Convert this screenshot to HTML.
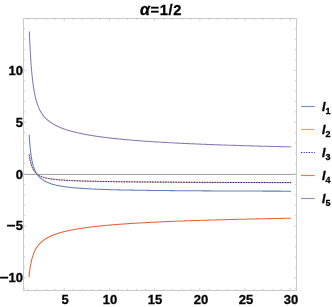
<!DOCTYPE html><html><head><meta charset="utf-8"><style>
html,body{margin:0;padding:0;background:#fff}
body{width:332px;height:307px;position:relative;overflow:hidden;font-family:"Liberation Sans",sans-serif;font-weight:bold;color:#000}
.t{position:absolute;white-space:nowrap;line-height:1;will-change:transform;-webkit-text-stroke:0.3px #000}
.yl{font-size:13px;text-align:right;width:30px}
.xl{font-size:13px;text-align:center;width:30px}
.lg{font-size:12.5px;font-style:italic}
.mn{display:inline-block;transform:scaleX(1.2);transform-origin:100% 50%}
.lg sub{font-size:9px;font-style:normal;vertical-align:baseline;position:relative;top:2.5px;left:0px}
</style></head><body>
<svg width="332" height="307" viewBox="0 0 332 307" style="position:absolute;left:0;top:0">
<line x1="23.5" y1="174.45" x2="296.5" y2="174.45" stroke="#8c8c8c" stroke-width="0.85"/>
<path d="M29.20,134.69 L29.28,136.05 L29.36,137.36 L29.45,138.62 L29.53,139.83 L29.61,141.00 L29.70,142.13 L29.78,143.22 L29.87,144.28 L29.96,145.29 L30.04,146.27 L30.13,147.22 L30.22,148.14 L30.31,149.03 L30.40,149.89 L30.49,150.72 L30.59,151.52 L30.68,152.30 L30.77,153.05 L30.87,153.78 L30.96,154.49 L31.06,155.17 L31.16,155.84 L31.25,156.48 L31.35,157.11 L31.45,157.72 L31.55,158.31 L31.65,158.88 L31.76,159.44 L31.86,159.98 L31.96,160.51 L32.07,161.02 L32.17,161.52 L32.28,162.00 L32.39,162.47 L32.49,162.93 L32.60,163.38 L32.71,163.82 L32.82,164.25 L32.93,164.66 L33.05,165.07 L33.16,165.46 L33.28,165.85 L33.39,166.23 L33.51,166.60 L33.62,166.96 L33.74,167.31 L33.86,167.65 L33.98,167.99 L34.10,168.32 L34.23,168.64 L34.35,168.96 L34.48,169.27 L34.60,169.57 L34.73,169.86 L34.86,170.16 L34.98,170.44 L35.11,170.72 L35.24,170.99 L35.38,171.26 L35.51,171.53 L35.64,171.78 L35.78,172.04 L35.92,172.29 L36.05,172.53 L36.19,172.77 L36.33,173.01 L36.47,173.24 L36.62,173.47 L36.76,173.69 L36.90,173.91 L37.05,174.13 L37.20,174.34 L37.35,174.55 L37.50,174.76 L37.65,174.96 L37.80,175.16 L37.95,175.36 L38.11,175.55 L38.26,175.74 L38.42,175.93 L38.58,176.12 L38.74,176.30 L38.90,176.48 L39.06,176.66 L39.23,176.83 L39.39,177.00 L39.56,177.17 L39.73,177.34 L39.90,177.51 L40.07,177.67 L40.24,177.83 L40.41,177.99 L40.59,178.14 L40.77,178.30 L40.95,178.45 L41.13,178.60 L41.31,178.75 L41.49,178.89 L41.67,179.04 L41.86,179.18 L42.05,179.32 L42.24,179.46 L42.43,179.59 L42.62,179.73 L42.81,179.86 L43.01,179.99 L43.21,180.12 L43.40,180.25 L43.61,180.38 L43.81,180.50 L44.01,180.63 L44.22,180.75 L44.42,180.87 L44.63,180.99 L44.84,181.11 L45.06,181.22 L45.27,181.34 L45.49,181.45 L45.70,181.56 L45.92,181.67 L46.15,181.78 L46.37,181.89 L46.59,182.00 L46.82,182.10 L47.05,182.21 L47.28,182.31 L47.52,182.41 L47.75,182.52 L47.99,182.62 L48.23,182.71 L48.47,182.81 L48.71,182.91 L48.95,183.00 L49.20,183.10 L49.45,183.19 L49.70,183.28 L49.96,183.37 L50.21,183.46 L50.47,183.55 L50.73,183.64 L50.99,183.73 L51.25,183.81 L51.52,183.90 L51.79,183.98 L52.06,184.07 L52.33,184.15 L52.61,184.23 L52.89,184.31 L53.17,184.39 L53.45,184.47 L53.73,184.55 L54.02,184.62 L54.31,184.70 L54.60,184.77 L54.90,184.85 L55.19,184.92 L55.49,184.99 L55.79,185.07 L56.10,185.14 L56.41,185.21 L56.71,185.28 L57.03,185.35 L57.34,185.41 L57.66,185.48 L57.98,185.55 L58.30,185.61 L58.63,185.68 L58.95,185.74 L59.29,185.81 L59.62,185.87 L59.96,185.93 L60.30,185.99 L60.64,186.06 L60.98,186.12 L61.33,186.18 L61.68,186.23 L62.03,186.29 L62.39,186.35 L62.75,186.41 L63.11,186.46 L63.48,186.52 L63.85,186.58 L64.22,186.63 L64.60,186.68 L64.97,186.74 L65.36,186.79 L65.74,186.84 L66.13,186.89 L66.52,186.95 L66.91,187.00 L67.31,187.05 L67.71,187.10 L68.12,187.15 L68.52,187.19 L68.93,187.24 L69.35,187.29 L69.77,187.34 L70.19,187.38 L70.61,187.43 L71.04,187.47 L71.47,187.52 L71.91,187.56 L72.35,187.61 L72.79,187.65 L73.24,187.69 L73.69,187.74 L74.15,187.78 L74.60,187.82 L75.07,187.86 L75.53,187.90 L76.00,187.94 L76.48,187.98 L76.95,188.02 L77.44,188.06 L77.92,188.10 L78.41,188.14 L78.90,188.18 L79.40,188.21 L79.91,188.25 L80.41,188.29 L80.92,188.32 L81.44,188.36 L81.96,188.39 L82.48,188.43 L83.01,188.46 L83.54,188.50 L84.08,188.53 L84.62,188.57 L85.17,188.60 L85.72,188.63 L86.27,188.66 L86.83,188.70 L87.40,188.73 L87.97,188.76 L88.54,188.79 L89.12,188.82 L89.70,188.85 L90.29,188.88 L90.89,188.91 L91.49,188.94 L92.09,188.97 L92.70,189.00 L93.31,189.03 L93.93,189.06 L94.55,189.08 L95.18,189.11 L95.82,189.14 L96.46,189.17 L97.10,189.19 L97.76,189.22 L98.41,189.25 L99.07,189.27 L99.74,189.30 L100.41,189.32 L101.09,189.35 L101.78,189.37 L102.47,189.40 L103.16,189.42 L103.86,189.44 L104.57,189.47 L105.28,189.49 L106.00,189.52 L106.73,189.54 L107.46,189.56 L108.20,189.58 L108.94,189.61 L109.69,189.63 L110.45,189.65 L111.21,189.67 L111.98,189.69 L112.76,189.71 L113.54,189.73 L114.33,189.76 L115.12,189.78 L115.92,189.80 L116.73,189.82 L117.55,189.84 L118.37,189.86 L119.20,189.87 L120.04,189.89 L120.88,189.91 L121.73,189.93 L122.59,189.95 L123.45,189.97 L124.32,189.99 L125.20,190.00 L126.09,190.02 L126.98,190.04 L127.88,190.06 L128.79,190.07 L129.71,190.09 L130.63,190.11 L131.57,190.12 L132.51,190.14 L133.45,190.16 L134.41,190.17 L135.37,190.19 L136.34,190.20 L137.32,190.22 L138.31,190.24 L139.31,190.25 L140.31,190.27 L141.33,190.28 L142.35,190.30 L143.38,190.31 L144.42,190.33 L145.46,190.34 L146.52,190.35 L147.59,190.37 L148.66,190.38 L149.74,190.40 L150.84,190.41 L151.94,190.42 L153.05,190.44 L154.17,190.45 L155.30,190.46 L156.44,190.47 L157.58,190.49 L158.74,190.50 L159.91,190.51 L161.09,190.52 L162.28,190.54 L163.47,190.55 L164.68,190.56 L165.90,190.57 L167.13,190.58 L168.36,190.60 L169.61,190.61 L170.87,190.62 L172.14,190.63 L173.42,190.64 L174.71,190.65 L176.01,190.66 L177.33,190.67 L178.65,190.68 L179.98,190.69 L181.33,190.70 L182.69,190.71 L184.06,190.72 L185.44,190.73 L186.83,190.74 L188.23,190.75 L189.65,190.76 L191.07,190.77 L192.51,190.78 L193.96,190.79 L195.43,190.80 L196.90,190.81 L198.39,190.82 L199.89,190.83 L201.40,190.84 L202.93,190.85 L204.46,190.86 L206.02,190.86 L207.58,190.87 L209.16,190.88 L210.75,190.89 L212.35,190.90 L213.97,190.91 L215.60,190.91 L217.24,190.92 L218.90,190.93 L220.58,190.94 L222.26,190.94 L223.96,190.95 L225.68,190.96 L227.41,190.97 L229.15,190.97 L230.91,190.98 L232.68,190.99 L234.47,191.00 L236.27,191.00 L238.09,191.01 L239.92,191.02 L241.77,191.02 L243.63,191.03 L245.51,191.04 L247.41,191.04 L249.32,191.05 L251.25,191.06 L253.19,191.06 L255.15,191.07 L257.13,191.08 L259.12,191.08 L261.13,191.09 L263.16,191.10 L265.20,191.10 L267.26,191.11 L269.34,191.11 L271.43,191.12 L273.55,191.12 L275.68,191.13 L277.83,191.14 L279.99,191.14 L282.18,191.15 L284.38,191.15 L286.60,191.16 L288.84,191.16 L291.10,191.17" fill="none" stroke="#5e81b5" stroke-width="1.05"/>
<path d="M29.20,154.53 L29.28,155.07 L29.36,155.60 L29.45,156.12 L29.53,156.63 L29.61,157.13 L29.70,157.61 L29.78,158.08 L29.87,158.55 L29.96,159.00 L30.04,159.44 L30.13,159.87 L30.22,160.30 L30.31,160.71 L30.40,161.11 L30.49,161.51 L30.59,161.89 L30.68,162.27 L30.77,162.64 L30.87,163.00 L30.96,163.35 L31.06,163.70 L31.16,164.03 L31.25,164.36 L31.35,164.69 L31.45,165.00 L31.55,165.31 L31.65,165.61 L31.76,165.91 L31.86,166.19 L31.96,166.48 L32.07,166.75 L32.17,167.02 L32.28,167.29 L32.39,167.55 L32.49,167.80 L32.60,168.05 L32.71,168.29 L32.82,168.53 L32.93,168.76 L33.05,168.98 L33.16,169.21 L33.28,169.42 L33.39,169.64 L33.51,169.85 L33.62,170.05 L33.74,170.25 L33.86,170.45 L33.98,170.64 L34.10,170.83 L34.23,171.01 L34.35,171.19 L34.48,171.37 L34.60,171.54 L34.73,171.71 L34.86,171.87 L34.98,172.04 L35.11,172.20 L35.24,172.35 L35.38,172.50 L35.51,172.65 L35.64,172.80 L35.78,172.94 L35.92,173.09 L36.05,173.22 L36.19,173.36 L36.33,173.49 L36.47,173.62 L36.62,173.75 L36.76,173.88 L36.90,174.00 L37.05,174.12 L37.20,174.24 L37.35,174.35 L37.50,174.47 L37.65,174.58 L37.80,174.69 L37.95,174.79 L38.11,174.90 L38.26,175.00 L38.42,175.11 L38.58,175.20 L38.74,175.30 L38.90,175.40 L39.06,175.49 L39.23,175.59 L39.39,175.68 L39.56,175.77 L39.73,175.85 L39.90,175.94 L40.07,176.02 L40.24,176.11 L40.41,176.19 L40.59,176.27 L40.77,176.35 L40.95,176.43 L41.13,176.50 L41.31,176.58 L41.49,176.65 L41.67,176.72 L41.86,176.79 L42.05,176.86 L42.24,176.93 L42.43,177.00 L42.62,177.07 L42.81,177.13 L43.01,177.20 L43.21,177.26 L43.40,177.32 L43.61,177.38 L43.81,177.44 L44.01,177.50 L44.22,177.56 L44.42,177.62 L44.63,177.68 L44.84,177.73 L45.06,177.79 L45.27,177.84 L45.49,177.89 L45.70,177.95 L45.92,178.00 L46.15,178.05 L46.37,178.10 L46.59,178.15 L46.82,178.20 L47.05,178.25 L47.28,178.29 L47.52,178.34 L47.75,178.39 L47.99,178.43 L48.23,178.47 L48.47,178.52 L48.71,178.56 L48.95,178.61 L49.20,178.65 L49.45,178.69 L49.70,178.73 L49.96,178.77 L50.21,178.81 L50.47,178.85 L50.73,178.89 L50.99,178.93 L51.25,178.97 L51.52,179.00 L51.79,179.04 L52.06,179.08 L52.33,179.11 L52.61,179.15 L52.89,179.18 L53.17,179.22 L53.45,179.25 L53.73,179.28 L54.02,179.32 L54.31,179.35 L54.60,179.38 L54.90,179.42 L55.19,179.45 L55.49,179.48 L55.79,179.51 L56.10,179.54 L56.41,179.57 L56.71,179.60 L57.03,179.63 L57.34,179.66 L57.66,179.69 L57.98,179.72 L58.30,179.75 L58.63,179.77 L58.95,179.80 L59.29,179.83 L59.62,179.86 L59.96,179.88 L60.30,179.91 L60.64,179.94 L60.98,179.96 L61.33,179.99 L61.68,180.01 L62.03,180.04 L62.39,180.06 L62.75,180.09 L63.11,180.11 L63.48,180.14 L63.85,180.16 L64.22,180.18 L64.60,180.21 L64.97,180.23 L65.36,180.25 L65.74,180.28 L66.13,180.30 L66.52,180.32 L66.91,180.34 L67.31,180.36 L67.71,180.39 L68.12,180.41 L68.52,180.43 L68.93,180.45 L69.35,180.47 L69.77,180.49 L70.19,180.51 L70.61,180.53 L71.04,180.55 L71.47,180.57 L71.91,180.59 L72.35,180.61 L72.79,180.63 L73.24,180.65 L73.69,180.67 L74.15,180.69 L74.60,180.71 L75.07,180.72 L75.53,180.74 L76.00,180.76 L76.48,180.78 L76.95,180.80 L77.44,180.82 L77.92,180.83 L78.41,180.85 L78.90,180.87 L79.40,180.88 L79.91,180.90 L80.41,180.92 L80.92,180.94 L81.44,180.95 L81.96,180.97 L82.48,180.99 L83.01,181.00 L83.54,181.02 L84.08,181.03 L84.62,181.05 L85.17,181.07 L85.72,181.08 L86.27,181.10 L86.83,181.11 L87.40,181.13 L87.97,181.14 L88.54,181.16 L89.12,181.17 L89.70,181.19 L90.29,181.20 L90.89,181.22 L91.49,181.23 L92.09,181.24 L92.70,181.26 L93.31,181.27 L93.93,181.29 L94.55,181.30 L95.18,181.31 L95.82,181.33 L96.46,181.34 L97.10,181.36 L97.76,181.37 L98.41,181.38 L99.07,181.40 L99.74,181.41 L100.41,181.42 L101.09,181.43 L101.78,181.45 L102.47,181.46 L103.16,181.47 L103.86,181.49 L104.57,181.50 L105.28,181.51 L106.00,181.52 L106.73,181.53 L107.46,181.55 L108.20,181.56 L108.94,181.57 L109.69,181.58 L110.45,181.59 L111.21,181.61 L111.98,181.62 L112.76,181.63 L113.54,181.64 L114.33,181.65 L115.12,181.66 L115.92,181.67 L116.73,181.69 L117.55,181.70 L118.37,181.71 L119.20,181.72 L120.04,181.73 L120.88,181.74 L121.73,181.75 L122.59,181.76 L123.45,181.77 L124.32,181.78 L125.20,181.79 L126.09,181.80 L126.98,181.81 L127.88,181.82 L128.79,181.83 L129.71,181.84 L130.63,181.85 L131.57,181.86 L132.51,181.87 L133.45,181.88 L134.41,181.89 L135.37,181.90 L136.34,181.91 L137.32,181.92 L138.31,181.93 L139.31,181.94 L140.31,181.95 L141.33,181.96 L142.35,181.97 L143.38,181.98 L144.42,181.99 L145.46,182.00 L146.52,182.01 L147.59,182.02 L148.66,182.02 L149.74,182.03 L150.84,182.04 L151.94,182.05 L153.05,182.06 L154.17,182.07 L155.30,182.08 L156.44,182.09 L157.58,182.09 L158.74,182.10 L159.91,182.11 L161.09,182.12 L162.28,182.13 L163.47,182.14 L164.68,182.14 L165.90,182.15 L167.13,182.16 L168.36,182.17 L169.61,182.18 L170.87,182.18 L172.14,182.19 L173.42,182.20 L174.71,182.21 L176.01,182.22 L177.33,182.22 L178.65,182.23 L179.98,182.24 L181.33,182.25 L182.69,182.25 L184.06,182.26 L185.44,182.27 L186.83,182.28 L188.23,182.28 L189.65,182.29 L191.07,182.30 L192.51,182.30 L193.96,182.31 L195.43,182.32 L196.90,182.33 L198.39,182.33 L199.89,182.34 L201.40,182.35 L202.93,182.35 L204.46,182.36 L206.02,182.37 L207.58,182.37 L209.16,182.38 L210.75,182.39 L212.35,182.39 L213.97,182.40 L215.60,182.41 L217.24,182.41 L218.90,182.42 L220.58,182.43 L222.26,182.43 L223.96,182.44 L225.68,182.45 L227.41,182.45 L229.15,182.46 L230.91,182.46 L232.68,182.47 L234.47,182.48 L236.27,182.48 L238.09,182.49 L239.92,182.49 L241.77,182.50 L243.63,182.51 L245.51,182.51 L247.41,182.52 L249.32,182.52 L251.25,182.53 L253.19,182.54 L255.15,182.54 L257.13,182.55 L259.12,182.55 L261.13,182.56 L263.16,182.56 L265.20,182.57 L267.26,182.57 L269.34,182.58 L271.43,182.59 L273.55,182.59 L275.68,182.60 L277.83,182.60 L279.99,182.61 L282.18,182.61 L284.38,182.62 L286.60,182.62 L288.84,182.63 L291.10,182.63" fill="none" stroke="#e19c24" stroke-width="1"/>
<path d="M29.20,154.53 L29.28,155.07 L29.36,155.60 L29.45,156.12 L29.53,156.63 L29.61,157.13 L29.70,157.61 L29.78,158.08 L29.87,158.55 L29.96,159.00 L30.04,159.44 L30.13,159.87 L30.22,160.30 L30.31,160.71 L30.40,161.11 L30.49,161.51 L30.59,161.89 L30.68,162.27 L30.77,162.64 L30.87,163.00 L30.96,163.35 L31.06,163.70 L31.16,164.03 L31.25,164.36 L31.35,164.69 L31.45,165.00 L31.55,165.31 L31.65,165.61 L31.76,165.91 L31.86,166.19 L31.96,166.48 L32.07,166.75 L32.17,167.02 L32.28,167.29 L32.39,167.55 L32.49,167.80 L32.60,168.05 L32.71,168.29 L32.82,168.53 L32.93,168.76 L33.05,168.98 L33.16,169.21 L33.28,169.42 L33.39,169.64 L33.51,169.85 L33.62,170.05 L33.74,170.25 L33.86,170.45 L33.98,170.64 L34.10,170.83 L34.23,171.01 L34.35,171.19 L34.48,171.37 L34.60,171.54 L34.73,171.71 L34.86,171.87 L34.98,172.04 L35.11,172.20 L35.24,172.35 L35.38,172.50 L35.51,172.65 L35.64,172.80 L35.78,172.94 L35.92,173.09 L36.05,173.22 L36.19,173.36 L36.33,173.49 L36.47,173.62 L36.62,173.75 L36.76,173.88 L36.90,174.00 L37.05,174.12 L37.20,174.24 L37.35,174.35 L37.50,174.47 L37.65,174.58 L37.80,174.69 L37.95,174.79 L38.11,174.90 L38.26,175.00 L38.42,175.11 L38.58,175.20 L38.74,175.30 L38.90,175.40 L39.06,175.49 L39.23,175.59 L39.39,175.68 L39.56,175.77 L39.73,175.85 L39.90,175.94 L40.07,176.02 L40.24,176.11 L40.41,176.19 L40.59,176.27 L40.77,176.35 L40.95,176.43 L41.13,176.50 L41.31,176.58 L41.49,176.65 L41.67,176.72 L41.86,176.79 L42.05,176.86 L42.24,176.93 L42.43,177.00 L42.62,177.07 L42.81,177.13 L43.01,177.20 L43.21,177.26 L43.40,177.32 L43.61,177.38 L43.81,177.44 L44.01,177.50 L44.22,177.56 L44.42,177.62 L44.63,177.68 L44.84,177.73 L45.06,177.79 L45.27,177.84 L45.49,177.89 L45.70,177.95 L45.92,178.00 L46.15,178.05 L46.37,178.10 L46.59,178.15 L46.82,178.20 L47.05,178.25 L47.28,178.29 L47.52,178.34 L47.75,178.39 L47.99,178.43 L48.23,178.47 L48.47,178.52 L48.71,178.56 L48.95,178.61 L49.20,178.65 L49.45,178.69 L49.70,178.73 L49.96,178.77 L50.21,178.81 L50.47,178.85 L50.73,178.89 L50.99,178.93 L51.25,178.97 L51.52,179.00 L51.79,179.04 L52.06,179.08 L52.33,179.11 L52.61,179.15 L52.89,179.18 L53.17,179.22 L53.45,179.25 L53.73,179.28 L54.02,179.32 L54.31,179.35 L54.60,179.38 L54.90,179.42 L55.19,179.45 L55.49,179.48 L55.79,179.51 L56.10,179.54 L56.41,179.57 L56.71,179.60 L57.03,179.63 L57.34,179.66 L57.66,179.69 L57.98,179.72 L58.30,179.75 L58.63,179.77 L58.95,179.80 L59.29,179.83 L59.62,179.86 L59.96,179.88 L60.30,179.91 L60.64,179.94 L60.98,179.96 L61.33,179.99 L61.68,180.01 L62.03,180.04 L62.39,180.06 L62.75,180.09 L63.11,180.11 L63.48,180.14 L63.85,180.16 L64.22,180.18 L64.60,180.21 L64.97,180.23 L65.36,180.25 L65.74,180.28 L66.13,180.30 L66.52,180.32 L66.91,180.34 L67.31,180.36 L67.71,180.39 L68.12,180.41 L68.52,180.43 L68.93,180.45 L69.35,180.47 L69.77,180.49 L70.19,180.51 L70.61,180.53 L71.04,180.55 L71.47,180.57 L71.91,180.59 L72.35,180.61 L72.79,180.63 L73.24,180.65 L73.69,180.67 L74.15,180.69 L74.60,180.71 L75.07,180.72 L75.53,180.74 L76.00,180.76 L76.48,180.78 L76.95,180.80 L77.44,180.82 L77.92,180.83 L78.41,180.85 L78.90,180.87 L79.40,180.88 L79.91,180.90 L80.41,180.92 L80.92,180.94 L81.44,180.95 L81.96,180.97 L82.48,180.99 L83.01,181.00 L83.54,181.02 L84.08,181.03 L84.62,181.05 L85.17,181.07 L85.72,181.08 L86.27,181.10 L86.83,181.11 L87.40,181.13 L87.97,181.14 L88.54,181.16 L89.12,181.17 L89.70,181.19 L90.29,181.20 L90.89,181.22 L91.49,181.23 L92.09,181.24 L92.70,181.26 L93.31,181.27 L93.93,181.29 L94.55,181.30 L95.18,181.31 L95.82,181.33 L96.46,181.34 L97.10,181.36 L97.76,181.37 L98.41,181.38 L99.07,181.40 L99.74,181.41 L100.41,181.42 L101.09,181.43 L101.78,181.45 L102.47,181.46 L103.16,181.47 L103.86,181.49 L104.57,181.50 L105.28,181.51 L106.00,181.52 L106.73,181.53 L107.46,181.55 L108.20,181.56 L108.94,181.57 L109.69,181.58 L110.45,181.59 L111.21,181.61 L111.98,181.62 L112.76,181.63 L113.54,181.64 L114.33,181.65 L115.12,181.66 L115.92,181.67 L116.73,181.69 L117.55,181.70 L118.37,181.71 L119.20,181.72 L120.04,181.73 L120.88,181.74 L121.73,181.75 L122.59,181.76 L123.45,181.77 L124.32,181.78 L125.20,181.79 L126.09,181.80 L126.98,181.81 L127.88,181.82 L128.79,181.83 L129.71,181.84 L130.63,181.85 L131.57,181.86 L132.51,181.87 L133.45,181.88 L134.41,181.89 L135.37,181.90 L136.34,181.91 L137.32,181.92 L138.31,181.93 L139.31,181.94 L140.31,181.95 L141.33,181.96 L142.35,181.97 L143.38,181.98 L144.42,181.99 L145.46,182.00 L146.52,182.01 L147.59,182.02 L148.66,182.02 L149.74,182.03 L150.84,182.04 L151.94,182.05 L153.05,182.06 L154.17,182.07 L155.30,182.08 L156.44,182.09 L157.58,182.09 L158.74,182.10 L159.91,182.11 L161.09,182.12 L162.28,182.13 L163.47,182.14 L164.68,182.14 L165.90,182.15 L167.13,182.16 L168.36,182.17 L169.61,182.18 L170.87,182.18 L172.14,182.19 L173.42,182.20 L174.71,182.21 L176.01,182.22 L177.33,182.22 L178.65,182.23 L179.98,182.24 L181.33,182.25 L182.69,182.25 L184.06,182.26 L185.44,182.27 L186.83,182.28 L188.23,182.28 L189.65,182.29 L191.07,182.30 L192.51,182.30 L193.96,182.31 L195.43,182.32 L196.90,182.33 L198.39,182.33 L199.89,182.34 L201.40,182.35 L202.93,182.35 L204.46,182.36 L206.02,182.37 L207.58,182.37 L209.16,182.38 L210.75,182.39 L212.35,182.39 L213.97,182.40 L215.60,182.41 L217.24,182.41 L218.90,182.42 L220.58,182.43 L222.26,182.43 L223.96,182.44 L225.68,182.45 L227.41,182.45 L229.15,182.46 L230.91,182.46 L232.68,182.47 L234.47,182.48 L236.27,182.48 L238.09,182.49 L239.92,182.49 L241.77,182.50 L243.63,182.51 L245.51,182.51 L247.41,182.52 L249.32,182.52 L251.25,182.53 L253.19,182.54 L255.15,182.54 L257.13,182.55 L259.12,182.55 L261.13,182.56 L263.16,182.56 L265.20,182.57 L267.26,182.57 L269.34,182.58 L271.43,182.59 L273.55,182.59 L275.68,182.60 L277.83,182.60 L279.99,182.61 L282.18,182.61 L284.38,182.62 L286.60,182.62 L288.84,182.63 L291.10,182.63" fill="none" stroke="#0000ff" stroke-width="1" stroke-dasharray="1.3,1.3"/>
<path d="M28.90,277.42 L28.98,276.67 L29.06,275.94 L29.14,275.22 L29.22,274.52 L29.30,273.83 L29.39,273.16 L29.47,272.49 L29.56,271.85 L29.64,271.21 L29.73,270.59 L29.81,269.98 L29.90,269.38 L29.99,268.79 L30.08,268.22 L30.17,267.65 L30.26,267.10 L30.35,266.56 L30.44,266.02 L30.53,265.50 L30.63,264.99 L30.72,264.49 L30.82,263.99 L30.91,263.51 L31.01,263.03 L31.11,262.56 L31.20,262.10 L31.30,261.65 L31.40,261.21 L31.50,260.78 L31.60,260.35 L31.71,259.93 L31.81,259.52 L31.91,259.11 L32.02,258.71 L32.13,258.32 L32.23,257.94 L32.34,257.56 L32.45,257.19 L32.56,256.82 L32.67,256.46 L32.78,256.11 L32.89,255.76 L33.01,255.42 L33.12,255.08 L33.24,254.75 L33.35,254.42 L33.47,254.10 L33.59,253.78 L33.71,253.47 L33.83,253.16 L33.95,252.86 L34.07,252.56 L34.19,252.27 L34.32,251.98 L34.44,251.70 L34.57,251.41 L34.70,251.14 L34.83,250.87 L34.96,250.60 L35.09,250.33 L35.22,250.07 L35.35,249.81 L35.49,249.56 L35.62,249.31 L35.76,249.06 L35.90,248.81 L36.04,248.57 L36.18,248.34 L36.32,248.10 L36.46,247.87 L36.60,247.64 L36.75,247.41 L36.89,247.19 L37.04,246.97 L37.19,246.75 L37.34,246.54 L37.49,246.33 L37.64,246.12 L37.80,245.91 L37.95,245.70 L38.11,245.50 L38.26,245.30 L38.42,245.10 L38.58,244.90 L38.75,244.71 L38.91,244.52 L39.07,244.33 L39.24,244.14 L39.41,243.96 L39.57,243.77 L39.74,243.59 L39.92,243.41 L40.09,243.23 L40.26,243.06 L40.44,242.88 L40.62,242.71 L40.79,242.54 L40.97,242.37 L41.16,242.20 L41.34,242.04 L41.52,241.87 L41.71,241.71 L41.90,241.55 L42.09,241.39 L42.28,241.23 L42.47,241.07 L42.67,240.92 L42.86,240.76 L43.06,240.61 L43.26,240.46 L43.46,240.31 L43.66,240.16 L43.87,240.01 L44.08,239.86 L44.28,239.72 L44.49,239.57 L44.70,239.43 L44.92,239.29 L45.13,239.15 L45.35,239.01 L45.57,238.87 L45.79,238.73 L46.01,238.59 L46.24,238.46 L46.46,238.32 L46.69,238.19 L46.92,238.06 L47.15,237.93 L47.39,237.80 L47.62,237.67 L47.86,237.54 L48.10,237.41 L48.34,237.28 L48.59,237.16 L48.83,237.03 L49.08,236.91 L49.33,236.78 L49.59,236.66 L49.84,236.54 L50.10,236.42 L50.36,236.30 L50.62,236.18 L50.88,236.06 L51.15,235.94 L51.42,235.82 L51.69,235.71 L51.96,235.59 L52.23,235.47 L52.51,235.36 L52.79,235.25 L53.07,235.13 L53.36,235.02 L53.64,234.91 L53.93,234.80 L54.22,234.69 L54.52,234.58 L54.81,234.47 L55.11,234.36 L55.41,234.25 L55.72,234.14 L56.02,234.04 L56.33,233.93 L56.64,233.82 L56.96,233.72 L57.28,233.61 L57.60,233.51 L57.92,233.41 L58.24,233.30 L58.57,233.20 L58.90,233.10 L59.24,233.00 L59.57,232.90 L59.91,232.80 L60.25,232.70 L60.60,232.60 L60.95,232.50 L61.30,232.40 L61.65,232.30 L62.01,232.21 L62.37,232.11 L62.73,232.01 L63.10,231.92 L63.47,231.82 L63.84,231.73 L64.21,231.63 L64.59,231.54 L64.97,231.45 L65.36,231.35 L65.75,231.26 L66.14,231.17 L66.53,231.08 L66.93,230.99 L67.33,230.89 L67.74,230.80 L68.15,230.71 L68.56,230.62 L68.97,230.54 L69.39,230.45 L69.82,230.36 L70.24,230.27 L70.67,230.18 L71.10,230.10 L71.54,230.01 L71.98,229.92 L72.43,229.84 L72.87,229.75 L73.33,229.66 L73.78,229.58 L74.24,229.49 L74.70,229.41 L75.17,229.33 L75.64,229.24 L76.12,229.16 L76.60,229.08 L77.08,228.99 L77.57,228.91 L78.06,228.83 L78.56,228.75 L79.06,228.67 L79.56,228.59 L80.07,228.51 L80.58,228.43 L81.10,228.35 L81.62,228.27 L82.15,228.19 L82.68,228.11 L83.21,228.03 L83.75,227.95 L84.29,227.88 L84.84,227.80 L85.40,227.72 L85.95,227.65 L86.52,227.57 L87.08,227.49 L87.66,227.42 L88.23,227.34 L88.81,227.27 L89.40,227.19 L89.99,227.12 L90.59,227.04 L91.19,226.97 L91.80,226.89 L92.41,226.82 L93.03,226.75 L93.65,226.68 L94.28,226.60 L94.91,226.53 L95.55,226.46 L96.19,226.39 L96.84,226.32 L97.50,226.24 L98.16,226.17 L98.82,226.10 L99.49,226.03 L100.17,225.96 L100.85,225.89 L101.54,225.82 L102.24,225.75 L102.94,225.69 L103.65,225.62 L104.36,225.55 L105.08,225.48 L105.80,225.41 L106.53,225.34 L107.27,225.28 L108.01,225.21 L108.76,225.14 L109.52,225.08 L110.28,225.01 L111.05,224.94 L111.82,224.88 L112.60,224.81 L113.39,224.75 L114.19,224.68 L114.99,224.62 L115.80,224.55 L116.61,224.49 L117.43,224.43 L118.26,224.36 L119.10,224.30 L119.94,224.23 L120.79,224.17 L121.65,224.11 L122.51,224.05 L123.39,223.98 L124.27,223.92 L125.15,223.86 L126.05,223.80 L126.95,223.74 L127.86,223.68 L128.78,223.61 L129.70,223.55 L130.63,223.49 L131.57,223.43 L132.52,223.37 L133.48,223.31 L134.45,223.25 L135.42,223.19 L136.40,223.14 L137.39,223.08 L138.39,223.02 L139.39,222.96 L140.41,222.90 L141.43,222.84 L142.46,222.79 L143.51,222.73 L144.56,222.67 L145.61,222.61 L146.68,222.56 L147.76,222.50 L148.84,222.44 L149.94,222.39 L151.04,222.33 L152.16,222.28 L153.28,222.22 L154.41,222.16 L155.56,222.11 L156.71,222.05 L157.87,222.00 L159.04,221.94 L160.22,221.89 L161.41,221.84 L162.61,221.78 L163.83,221.73 L165.05,221.67 L166.28,221.62 L167.52,221.57 L168.78,221.51 L170.04,221.46 L171.31,221.41 L172.60,221.36 L173.89,221.30 L175.20,221.25 L176.52,221.20 L177.85,221.15 L179.19,221.10 L180.54,221.05 L181.90,221.00 L183.28,220.94 L184.67,220.89 L186.06,220.84 L187.47,220.79 L188.90,220.74 L190.33,220.69 L191.78,220.64 L193.24,220.59 L194.71,220.54 L196.19,220.50 L197.69,220.45 L199.19,220.40 L200.72,220.35 L202.25,220.30 L203.80,220.25 L205.36,220.20 L206.93,220.16 L208.52,220.11 L210.12,220.06 L211.73,220.01 L213.36,219.97 L215.00,219.92 L216.65,219.87 L218.32,219.83 L220.01,219.78 L221.70,219.73 L223.42,219.69 L225.14,219.64 L226.88,219.59 L228.64,219.55 L230.41,219.50 L232.19,219.46 L234.00,219.41 L235.81,219.37 L237.64,219.32 L239.49,219.28 L241.35,219.23 L243.23,219.19 L245.12,219.15 L247.03,219.10 L248.96,219.06 L250.90,219.01 L252.86,218.97 L254.84,218.93 L256.83,218.88 L258.84,218.84 L260.86,218.80 L262.91,218.76 L264.97,218.71 L267.05,218.67 L269.14,218.63 L271.26,218.59 L273.39,218.54 L275.54,218.50 L277.70,218.46 L279.89,218.42 L282.09,218.38 L284.32,218.34 L286.56,218.30 L288.82,218.25 L291.10,218.21" fill="none" stroke="#eb6235" stroke-width="1.05"/>
<path d="M29.35,31.57 L29.43,33.65 L29.52,35.69 L29.60,37.68 L29.68,39.61 L29.77,41.50 L29.85,43.34 L29.94,45.13 L30.03,46.88 L30.12,48.59 L30.20,50.25 L30.29,51.87 L30.38,53.46 L30.47,55.00 L30.57,56.51 L30.66,57.98 L30.75,59.41 L30.85,60.81 L30.94,62.18 L31.04,63.51 L31.13,64.81 L31.23,66.08 L31.33,67.32 L31.43,68.54 L31.52,69.72 L31.63,70.87 L31.73,72.00 L31.83,73.10 L31.93,74.18 L32.04,75.23 L32.14,76.26 L32.25,77.26 L32.35,78.24 L32.46,79.20 L32.57,80.14 L32.68,81.06 L32.79,81.95 L32.90,82.83 L33.01,83.68 L33.12,84.52 L33.24,85.34 L33.35,86.14 L33.47,86.92 L33.58,87.69 L33.70,88.44 L33.82,89.18 L33.94,89.89 L34.06,90.60 L34.18,91.29 L34.30,91.96 L34.43,92.62 L34.55,93.27 L34.68,93.90 L34.80,94.52 L34.93,95.13 L35.06,95.73 L35.19,96.31 L35.32,96.88 L35.45,97.44 L35.59,97.99 L35.72,98.53 L35.86,99.06 L35.99,99.58 L36.13,100.09 L36.27,100.59 L36.41,101.08 L36.55,101.56 L36.69,102.03 L36.84,102.50 L36.98,102.95 L37.13,103.40 L37.27,103.84 L37.42,104.27 L37.57,104.69 L37.72,105.11 L37.87,105.52 L38.03,105.92 L38.18,106.31 L38.34,106.70 L38.50,107.08 L38.65,107.46 L38.81,107.83 L38.98,108.19 L39.14,108.55 L39.30,108.90 L39.47,109.25 L39.63,109.59 L39.80,109.92 L39.97,110.25 L40.14,110.58 L40.31,110.90 L40.49,111.21 L40.66,111.53 L40.84,111.83 L41.02,112.13 L41.20,112.43 L41.38,112.72 L41.56,113.01 L41.75,113.30 L41.93,113.58 L42.12,113.86 L42.31,114.13 L42.50,114.40 L42.69,114.67 L42.88,114.93 L43.08,115.19 L43.28,115.45 L43.47,115.70 L43.67,115.95 L43.88,116.19 L44.08,116.44 L44.28,116.68 L44.49,116.92 L44.70,117.15 L44.91,117.38 L45.12,117.61 L45.34,117.84 L45.55,118.06 L45.77,118.29 L45.99,118.51 L46.21,118.72 L46.43,118.94 L46.66,119.15 L46.88,119.36 L47.11,119.57 L47.34,119.77 L47.58,119.98 L47.81,120.18 L48.05,120.38 L48.28,120.57 L48.52,120.77 L48.77,120.96 L49.01,121.15 L49.26,121.34 L49.51,121.53 L49.76,121.72 L50.01,121.90 L50.26,122.09 L50.52,122.27 L50.78,122.45 L51.04,122.62 L51.30,122.80 L51.57,122.98 L51.84,123.15 L52.11,123.32 L52.38,123.49 L52.65,123.66 L52.93,123.83 L53.21,123.99 L53.49,124.16 L53.77,124.32 L54.06,124.49 L54.35,124.65 L54.64,124.81 L54.93,124.97 L55.23,125.12 L55.53,125.28 L55.83,125.44 L56.13,125.59 L56.44,125.74 L56.75,125.89 L57.06,126.04 L57.37,126.19 L57.69,126.34 L58.01,126.49 L58.33,126.64 L58.65,126.78 L58.98,126.93 L59.31,127.07 L59.64,127.21 L59.97,127.36 L60.31,127.50 L60.65,127.64 L61.00,127.78 L61.34,127.91 L61.69,128.05 L62.04,128.19 L62.40,128.32 L62.76,128.46 L63.12,128.59 L63.48,128.72 L63.85,128.86 L64.22,128.99 L64.59,129.12 L64.97,129.25 L65.35,129.38 L65.73,129.51 L66.12,129.63 L66.51,129.76 L66.90,129.89 L67.30,130.01 L67.69,130.14 L68.10,130.26 L68.50,130.39 L68.91,130.51 L69.32,130.63 L69.74,130.75 L70.16,130.87 L70.58,130.99 L71.01,131.11 L71.44,131.23 L71.87,131.35 L72.31,131.47 L72.75,131.58 L73.19,131.70 L73.64,131.82 L74.09,131.93 L74.55,132.05 L75.01,132.16 L75.47,132.27 L75.94,132.39 L76.41,132.50 L76.89,132.61 L77.37,132.72 L77.85,132.83 L78.34,132.94 L78.83,133.05 L79.32,133.16 L79.82,133.27 L80.33,133.38 L80.83,133.49 L81.34,133.59 L81.86,133.70 L82.38,133.81 L82.91,133.91 L83.44,134.02 L83.97,134.12 L84.51,134.23 L85.05,134.33 L85.60,134.43 L86.15,134.53 L86.71,134.64 L87.27,134.74 L87.83,134.84 L88.40,134.94 L88.98,135.04 L89.56,135.14 L90.14,135.24 L90.73,135.34 L91.33,135.44 L91.93,135.53 L92.53,135.63 L93.14,135.73 L93.76,135.83 L94.38,135.92 L95.00,136.02 L95.63,136.11 L96.27,136.21 L96.91,136.30 L97.55,136.40 L98.20,136.49 L98.86,136.59 L99.52,136.68 L100.19,136.77 L100.87,136.86 L101.55,136.95 L102.23,137.05 L102.92,137.14 L103.62,137.23 L104.32,137.32 L105.03,137.41 L105.74,137.50 L106.46,137.59 L107.19,137.67 L107.92,137.76 L108.66,137.85 L109.40,137.94 L110.15,138.03 L110.91,138.11 L111.67,138.20 L112.44,138.29 L113.22,138.37 L114.00,138.46 L114.79,138.54 L115.58,138.63 L116.39,138.71 L117.19,138.79 L118.01,138.88 L118.83,138.96 L119.66,139.04 L120.50,139.13 L121.34,139.21 L122.19,139.29 L123.05,139.37 L123.91,139.45 L124.78,139.53 L125.66,139.61 L126.55,139.69 L127.44,139.77 L128.34,139.85 L129.25,139.93 L130.17,140.01 L131.09,140.09 L132.02,140.17 L132.96,140.25 L133.91,140.32 L134.86,140.40 L135.83,140.48 L136.80,140.56 L137.78,140.63 L138.77,140.71 L139.76,140.78 L140.76,140.86 L141.78,140.93 L142.80,141.01 L143.83,141.08 L144.86,141.16 L145.91,141.23 L146.97,141.30 L148.03,141.38 L149.10,141.45 L150.19,141.52 L151.28,141.60 L152.38,141.67 L153.49,141.74 L154.60,141.81 L155.73,141.88 L156.87,141.95 L158.02,142.02 L159.17,142.09 L160.34,142.16 L161.51,142.23 L162.70,142.30 L163.89,142.37 L165.10,142.44 L166.32,142.51 L167.54,142.58 L168.78,142.65 L170.02,142.72 L171.28,142.78 L172.55,142.85 L173.82,142.92 L175.11,142.98 L176.41,143.05 L177.72,143.12 L179.04,143.18 L180.37,143.25 L181.72,143.31 L183.07,143.38 L184.44,143.44 L185.81,143.51 L187.20,143.57 L188.60,143.64 L190.01,143.70 L191.44,143.76 L192.87,143.83 L194.32,143.89 L195.78,143.95 L197.25,144.02 L198.73,144.08 L200.23,144.14 L201.74,144.20 L203.26,144.26 L204.79,144.33 L206.34,144.39 L207.90,144.45 L209.47,144.51 L211.06,144.57 L212.66,144.63 L214.27,144.69 L215.89,144.75 L217.53,144.81 L219.19,144.87 L220.85,144.93 L222.53,144.98 L224.23,145.04 L225.94,145.10 L227.66,145.16 L229.40,145.22 L231.15,145.27 L232.92,145.33 L234.70,145.39 L236.50,145.45 L238.31,145.50 L240.13,145.56 L241.98,145.62 L243.83,145.67 L245.71,145.73 L247.59,145.78 L249.50,145.84 L251.42,145.89 L253.35,145.95 L255.31,146.00 L257.27,146.06 L259.26,146.11 L261.26,146.17 L263.28,146.22 L265.31,146.27 L267.37,146.33 L269.44,146.38 L271.52,146.43 L273.63,146.48 L275.75,146.54 L277.89,146.59 L280.04,146.64 L282.22,146.69 L284.41,146.75 L286.62,146.80 L288.85,146.85 L291.10,146.90" fill="none" stroke="#8778b3" stroke-width="1.05"/>
<rect x="23.5" y="18.5" width="273.0" height="272.0" fill="none" stroke="#cacaca" stroke-width="1"/>
<path d="M28.01,290.5v-1.5M28.01,18.5v1.5M37.06,290.5v-1.5M37.06,18.5v1.5M46.10,290.5v-1.5M46.10,18.5v1.5M55.15,290.5v-1.5M55.15,18.5v1.5M64.19,290.5v-2.2M64.19,18.5v2.2M73.23,290.5v-1.5M73.23,18.5v1.5M82.28,290.5v-1.5M82.28,18.5v1.5M91.32,290.5v-1.5M91.32,18.5v1.5M100.37,290.5v-1.5M100.37,18.5v1.5M109.41,290.5v-2.2M109.41,18.5v2.2M118.45,290.5v-1.5M118.45,18.5v1.5M127.50,290.5v-1.5M127.50,18.5v1.5M136.54,290.5v-1.5M136.54,18.5v1.5M145.59,290.5v-1.5M145.59,18.5v1.5M154.63,290.5v-2.2M154.63,18.5v2.2M163.67,290.5v-1.5M163.67,18.5v1.5M172.72,290.5v-1.5M172.72,18.5v1.5M181.76,290.5v-1.5M181.76,18.5v1.5M190.81,290.5v-1.5M190.81,18.5v1.5M199.85,290.5v-2.2M199.85,18.5v2.2M208.89,290.5v-1.5M208.89,18.5v1.5M217.94,290.5v-1.5M217.94,18.5v1.5M226.98,290.5v-1.5M226.98,18.5v1.5M236.03,290.5v-1.5M236.03,18.5v1.5M245.07,290.5v-2.2M245.07,18.5v2.2M254.11,290.5v-1.5M254.11,18.5v1.5M263.16,290.5v-1.5M263.16,18.5v1.5M272.20,290.5v-1.5M272.20,18.5v1.5M281.25,290.5v-1.5M281.25,18.5v1.5M290.29,290.5v-2.2M290.29,18.5v2.2M23.5,288.28h1.5M296.5,288.28h-1.5M23.5,277.90h2.2M296.5,277.90h-2.2M23.5,267.52h1.5M296.5,267.52h-1.5M23.5,257.14h1.5M296.5,257.14h-1.5M23.5,246.76h1.5M296.5,246.76h-1.5M23.5,236.38h1.5M296.5,236.38h-1.5M23.5,226.00h2.2M296.5,226.00h-2.2M23.5,215.62h1.5M296.5,215.62h-1.5M23.5,205.24h1.5M296.5,205.24h-1.5M23.5,194.86h1.5M296.5,194.86h-1.5M23.5,184.48h1.5M296.5,184.48h-1.5M23.5,174.10h2.2M296.5,174.10h-2.2M23.5,163.72h1.5M296.5,163.72h-1.5M23.5,153.34h1.5M296.5,153.34h-1.5M23.5,142.96h1.5M296.5,142.96h-1.5M23.5,132.58h1.5M296.5,132.58h-1.5M23.5,122.20h2.2M296.5,122.20h-2.2M23.5,111.82h1.5M296.5,111.82h-1.5M23.5,101.44h1.5M296.5,101.44h-1.5M23.5,91.06h1.5M296.5,91.06h-1.5M23.5,80.68h1.5M296.5,80.68h-1.5M23.5,70.30h2.2M296.5,70.30h-2.2M23.5,59.92h1.5M296.5,59.92h-1.5M23.5,49.54h1.5M296.5,49.54h-1.5M23.5,39.16h1.5M296.5,39.16h-1.5M23.5,28.78h1.5M296.5,28.78h-1.5" stroke="#cacaca" stroke-width="1" fill="none"/>
<line x1="301" y1="106.5" x2="314.8" y2="106.5" stroke="#5e81b5" stroke-width="1.15" stroke-opacity="0.85"/>
<line x1="301" y1="129.5" x2="314.8" y2="129.5" stroke="#e19c24" stroke-width="1.15" stroke-opacity="0.85"/>
<line x1="301" y1="152.5" x2="314.8" y2="152.5" stroke="#0000ff" stroke-width="1.15" stroke-opacity="0.85" stroke-dasharray="1.3,1.3"/>
<line x1="301" y1="175.5" x2="314.8" y2="175.5" stroke="#eb6235" stroke-width="1.15" stroke-opacity="0.85"/>
<line x1="301" y1="198.5" x2="314.8" y2="198.5" stroke="#8778b3" stroke-width="1.15" stroke-opacity="0.85"/>
</svg>
<div class="t" style="left:139.6px;top:1.9px;font-size:14.6px;letter-spacing:0.65px"><i style="font-size:16px">α</i>=1/2</div>
<div class="t yl" style="left:-7.5px;top:63.7px">10</div>
<div class="t yl" style="left:-7.5px;top:115.6px">5</div>
<div class="t yl" style="left:-7.5px;top:167.5px">0</div>
<div class="t yl" style="left:-7.5px;top:219.4px"><span class="mn">−</span>5</div>
<div class="t yl" style="left:-7.5px;top:271.3px"><span class="mn">−</span>10</div>
<div class="t xl" style="left:49.8px;top:292.5px">5</div>
<div class="t xl" style="left:95.1px;top:292.5px">10</div>
<div class="t xl" style="left:140.3px;top:292.5px">15</div>
<div class="t xl" style="left:185.6px;top:292.5px">20</div>
<div class="t xl" style="left:230.9px;top:292.5px">25</div>
<div class="t xl" style="left:276.2px;top:292.5px">30</div>
<div class="t lg" style="left:322.4px;top:100.9px">I<sub>1</sub></div>
<div class="t lg" style="left:322.4px;top:123.9px">I<sub>2</sub></div>
<div class="t lg" style="left:322.4px;top:146.9px">I<sub>3</sub></div>
<div class="t lg" style="left:322.4px;top:169.9px">I<sub>4</sub></div>
<div class="t lg" style="left:322.4px;top:192.9px">I<sub>5</sub></div>
</body></html>
